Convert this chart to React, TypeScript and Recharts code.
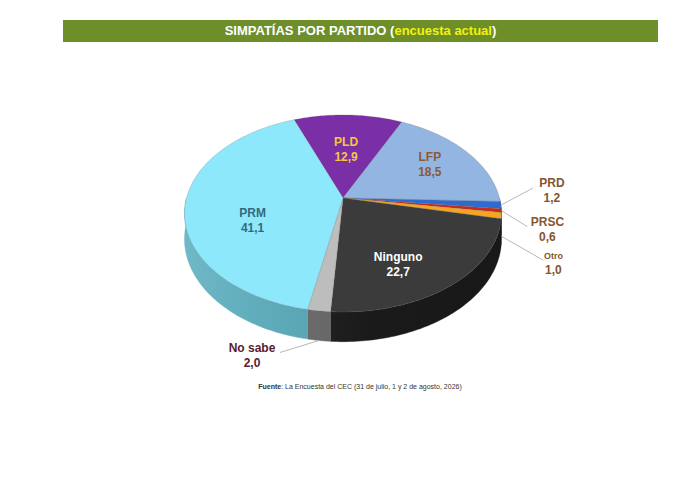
import { PieChart, Pie } from 'recharts'

// orden en el sentido de las agujas del reloj, empezando por PLD arriba
const parties = ['PLD', 'LFP', 'PRD', 'PRSC', 'Otro', 'Ninguno', 'No sabe', 'PRM']
const shares = [12.9, 18.5, 1.2, 0.6, 1.0, 22.7, 2.0, 41.1]

const topColors = ['#7a2fa6', '#93b5e2', '#2e6bd1', '#c62a1c', '#f5a51f', '#3b3b3b', '#bdbdbd', '#8ee8fb']
const wallColors = ['#5a2080', '#6c88b0', '#1f4c99', '#8e1d14', '#b87915', '#1c1c1c', '#6c6c6c', '#5aaebf']
const textColors = ['#f6c445', '#8a5a3a', '#855530', '#855530', '#855530', '#ffffff', '#5b2030', '#336b7d']

const data = parties.map((name, i) => ({ name, value: shares[i] }))

// proyección en perspectiva del disco
const RX = 156.5
const RY = 96.1
const PERSP = 0.157
const DEPTH = 25
const FONT = '"Liberation Sans", Arial, sans-serif'

// etiquetas interiores: radio relativo y desplazamiento del ángulo
const inside: Record<string, { r: number; shift: number }> = {
    PLD: { r: 0.55, shift: 0 },
    LFP: { r: 0.7, shift: 1.6 },
    Ninguno: { r: 0.7, shift: -10 },
    PRM: { r: 0.6, shift: 16.7 },
}

// etiquetas exteriores: línea guía y texto relativos al borde
const outside: Record<string, { depth: number; line: [number, number]; text: [number, number]; small?: boolean }> = {
    PRD: { depth: 0, line: [32, -17], text: [51, -15] },
    PRSC: { depth: 0, line: [26, 16], text: [46, 18] },
    Otro: { depth: 0.8, line: [42, 24], text: [52, 26], small: true },
    'No sabe': { depth: 1, line: [-39, 12], text: [-67, 15] },
}

function project(cx: number, cy: number, angle: number, r = 1) {
    const t = (angle * Math.PI) / 180
    const u = r * Math.cos(t)
    const v = r * Math.sin(t)
    const k = 1 / (1 + PERSP * v)
    return { x: cx + RX * u * k, y: cy - RY * v * k, k }
}

function arc(cx: number, cy: number, a1: number, a2: number) {
    const n = Math.max(2, Math.ceil(Math.abs(a2 - a1)) + 1)
    const pts = []
    for (let i = 0; i < n; i++) {
        pts.push(project(cx, cy, a1 + ((a2 - a1) * i) / (n - 1)))
    }
    return pts
}

function renderWall(props: any) {
    const { cx, cy, startAngle, endAngle, index } = props
    const lo = Math.min(startAngle, endAngle)
    const hi = Math.max(startAngle, endAngle)
    const parts = []
    for (const k of [-1, 0, 1]) {
        const a = Math.max(lo, -180 + 360 * k)
        const b = Math.min(hi, 360 * k)
        if (b > a) parts.push([a, b])
    }
    const gid = `wall-shade-${index}`
    return (
        <g>
            <defs>
                <linearGradient id={gid} gradientUnits="userSpaceOnUse" x1={cx - RX} y1={0} x2={cx + RX} y2={0}>
                    <stop offset="0" stopColor="#ffffff" stopOpacity={0.12} />
                    <stop offset="0.6" stopColor="#000000" stopOpacity={0.08} />
                    <stop offset="1" stopColor="#000000" stopOpacity={0.15} />
                </linearGradient>
            </defs>
            {parts.map(([a, b], j) => {
                const top = arc(cx, cy, a, b)
                const bottom = top.map((p) => ({ x: p.x, y: p.y + DEPTH * p.k })).reverse()
                const d = [...top, ...bottom].map((p, i) => `${i ? 'L' : 'M'}${p.x.toFixed(2)},${p.y.toFixed(2)}`).join(' ') + ' Z'
                return (
                    <g key={j}>
                        <path d={d} fill={wallColors[index]} stroke={wallColors[index]} strokeWidth={0.4} />
                        <path d={d} fill={`url(#${gid})`} stroke="none" />
                    </g>
                )
            })}
        </g>
    )
}

function renderTop(props: any) {
    const { cx, cy, startAngle, endAngle, index } = props
    const pts = arc(cx, cy, startAngle, endAngle)
    const d = `M${cx},${cy} ` + pts.map((p) => `L${p.x.toFixed(2)},${p.y.toFixed(2)}`).join(' ') + ' Z'
    return <path d={d} fill={topColors[index]} stroke="#6a6a6a" strokeWidth={0.4} strokeOpacity={0.6} />
}

function renderText(props: any) {
    const { cx, cy, midAngle, index } = props
    const name = parties[index]
    const value = shares[index].toFixed(1).replace('.', ',')
    const color = textColors[index]
    if (inside[name]) {
        const spec = inside[name]
        const p = project(cx, cy, midAngle + spec.shift, spec.r)
        return (
            <text x={p.x} y={p.y} textAnchor="middle" fill={color} fontFamily={FONT} fontWeight="bold" fontSize={12}>
                <tspan x={p.x} dy={-3}>{name}</tspan>
                <tspan x={p.x} dy={15}>{value}</tspan>
            </text>
        )
    }
    const spec = outside[name]
    const edge = project(cx, cy, midAngle)
    const ax = edge.x
    const ay = edge.y + spec.depth * DEPTH * edge.k
    const tx = ax + spec.text[0]
    const ty = ay + spec.text[1]
    return (
        <g>
            <line
                x1={ax}
                y1={ay}
                x2={ax + spec.line[0]}
                y2={ay + spec.line[1]}
                style={{ stroke: '#b8b8b8', strokeWidth: 1, fill: 'none' }}
            />
            <text x={tx} y={ty} textAnchor="middle" fill={color} fontFamily={FONT} fontWeight="bold" fontSize={12}>
                <tspan x={tx} dy={-3} fontSize={spec.small ? 9 : 12}>{name}</tspan>
                <tspan x={tx} dy={15}>{value}</tspan>
            </text>
        </g>
    )
}

export default function App() {
    const pieProps = {
        data,
        dataKey: 'value',
        nameKey: 'name',
        cx: 343,
        cy: 198,
        outerRadius: 100,
        startAngle: 111,
        endAngle: -249,
        fill: 'transparent',
        stroke: 'none',
        labelLine: false,
        isAnimationActive: false,
    }
    return (
        <div style={{ position: 'absolute', left: 0, top: 0, width: 696, height: 486, background: '#fff' }}>
            <div
                style={{
                    position: 'absolute',
                    left: 63,
                    top: 20,
                    width: 595,
                    height: 22,
                    background: '#6e8e2a',
                    color: '#fff',
                    fontFamily: FONT,
                    fontWeight: 'bold',
                    fontSize: 13,
                    lineHeight: '22px',
                    textAlign: 'center',
                }}
            >
                SIMPATÍAS POR PARTIDO (<span style={{ color: '#f2f20a' }}>encuesta actual</span>)
            </div>
            <PieChart width={696} height={486} margin={{ top: 0, right: 0, bottom: 0, left: 0 }}>
                <Pie {...pieProps} label={renderWall} />
                <Pie {...pieProps} label={renderTop} />
                <Pie {...pieProps} label={renderText} />
            </PieChart>
            <div
                style={{
                    position: 'absolute',
                    left: 0,
                    top: 383,
                    width: 720,
                    textAlign: 'center',
                    fontFamily: FONT,
                    fontSize: 7,
                    color: '#333',
                }}
            >
                <b>Fuente</b>: La Encuesta del CEC (31 de julio, 1 y 2 de agosto, 2026)
            </div>
        </div>
    )
}
